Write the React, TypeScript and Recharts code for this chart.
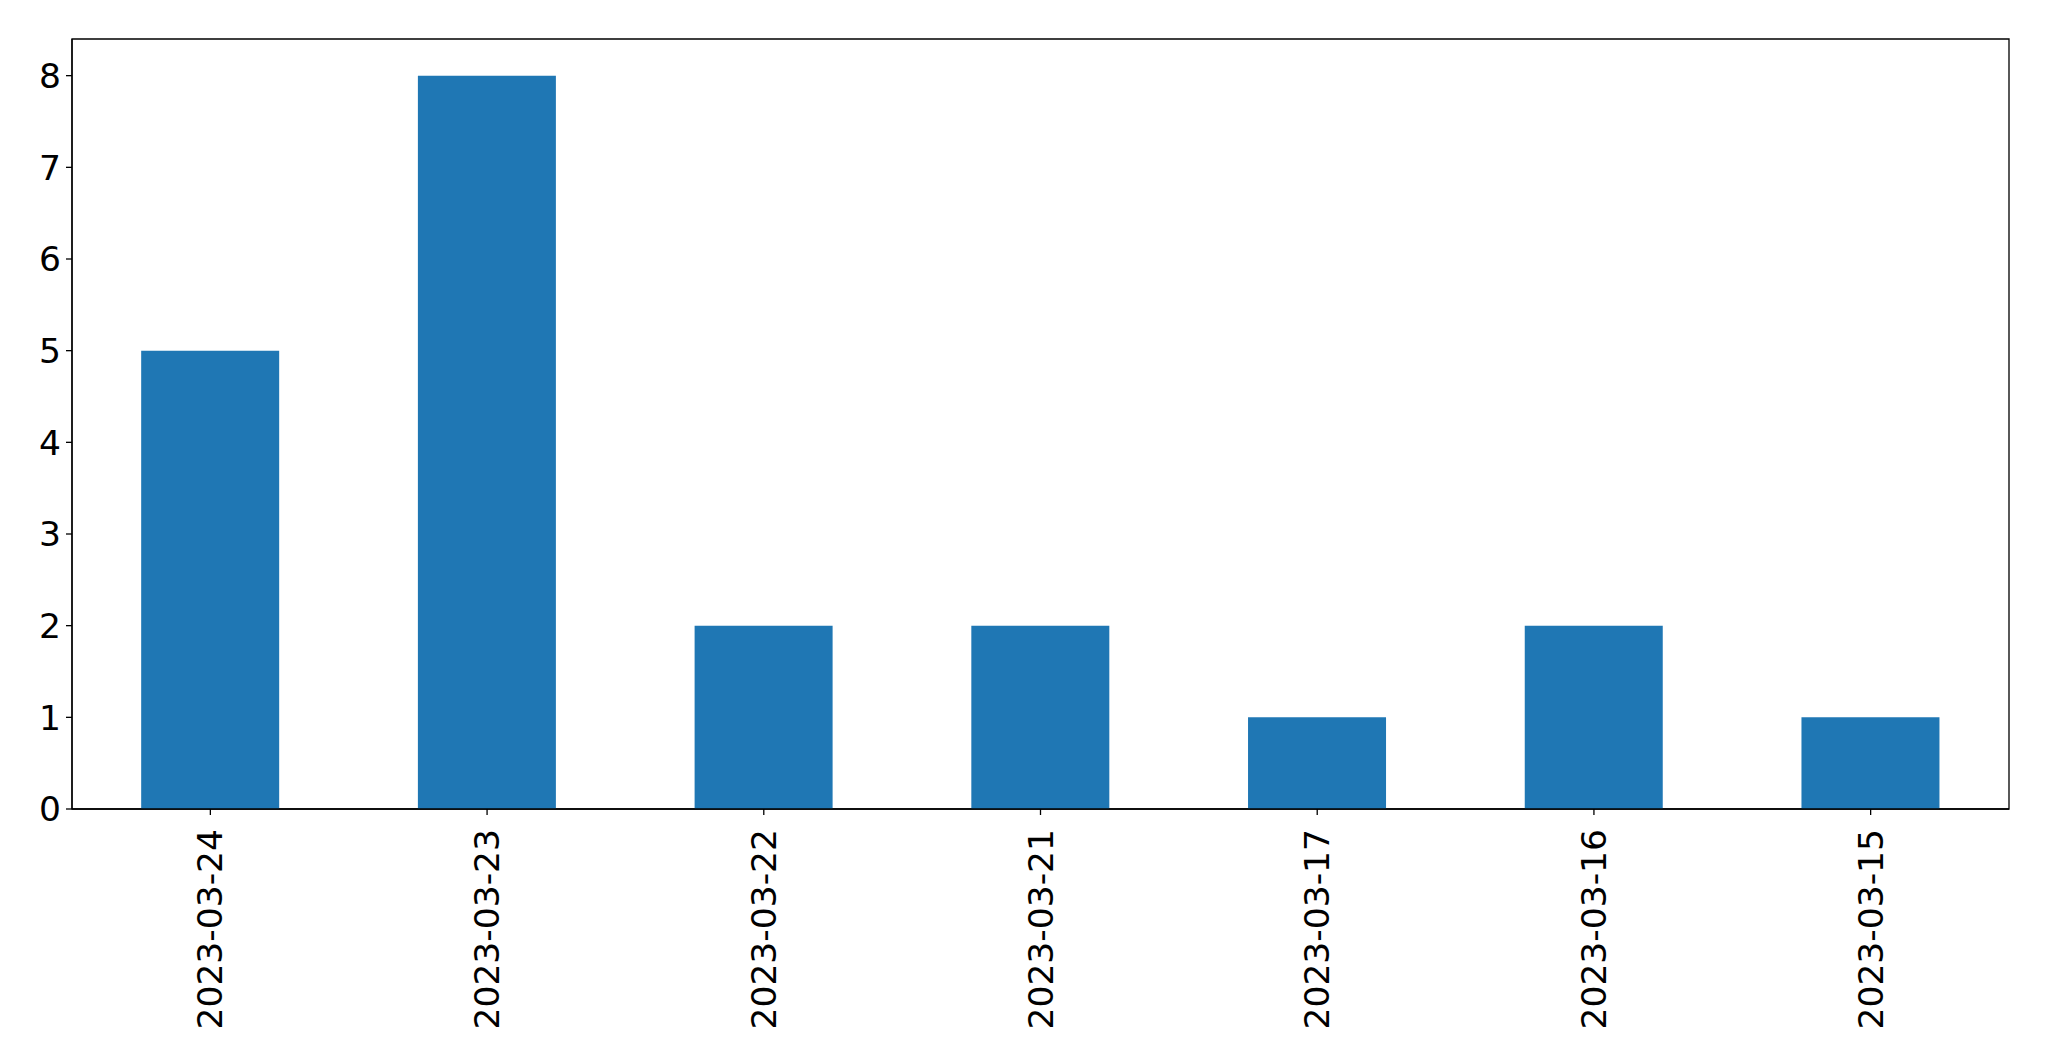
import React from 'react';
import { BarChart, Bar, XAxis, YAxis, ReferenceArea } from 'recharts';

const dates = ['2023-03-24', '2023-03-23', '2023-03-22', '2023-03-21', '2023-03-17', '2023-03-16', '2023-03-15'];
const counts = [5, 8, 2, 2, 1, 2, 1];
const yTicks = [0, 1, 2, 3, 4, 5, 6, 7, 8];

const data = dates.map((d, i) => ({ date: d, count: counts[i] }));

const FONT = '"DejaVu Sans", sans-serif';
const TICK_SIZE = 34.5;

const DateTick = (props: any) => {
  const { x, y, payload } = props;
  return (
    <text
      x={x}
      y={y}
      transform={`rotate(-90, ${x}, ${y})`}
      textAnchor="end"
      dy="0.35em"
      fontSize={TICK_SIZE}
      fontFamily={FONT}
      fill="#000"
    >
      {payload.value}
    </text>
  );
};

const App: React.FC = () => {
  return (
    <div style={{ position: 'absolute', left: 0, top: 0, width: 2049, height: 1061, background: '#fff' }}>
      <BarChart
        width={2049}
        height={1061}
        data={data}
        margin={{ top: 39, right: 40, bottom: 0, left: 0 }}
        barCategoryGap="25%"
      >
        <XAxis
          dataKey="date"
          height={252}
          tickSize={6}
          tickMargin={14}
          interval={0}
          stroke="#000"
          strokeWidth={1.3}
          tick={<DateTick />}
        />
        <YAxis
          width={72}
          domain={[0, 8.4]}
          ticks={yTicks}
          tickSize={6}
          tickMargin={5}
          stroke="#000"
          strokeWidth={1.3}
          tick={{ fontSize: TICK_SIZE, fontFamily: FONT, fill: '#000' }}
        />
        <Bar dataKey="count" fill="#1f77b4" isAnimationActive={false} />
        <ReferenceArea y1={0} y2={8.4} fill="none" stroke="#000" strokeWidth={1.3} ifOverflow="visible" />
      </BarChart>
    </div>
  );
};

export default App;
